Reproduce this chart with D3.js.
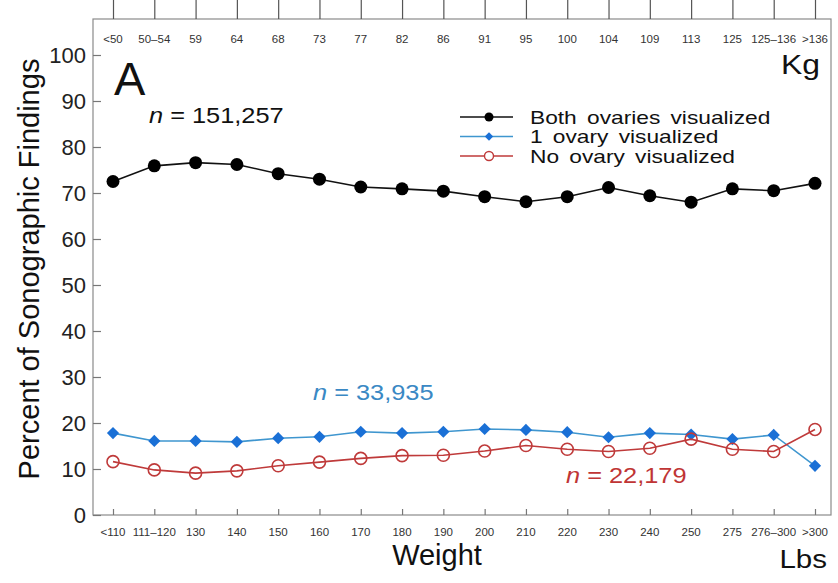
<!DOCTYPE html>
<html>
<head>
<meta charset="utf-8">
<script src="https://cdn.jsdelivr.net/npm/d3@7"></script>
<style>
  body { margin: 0; background: #fff; }
  text { font-family: "Liberation Sans", Arial, sans-serif; }
</style>
</head>
<body>
<div id="chart"></div>
<script>
(function(){
    // categories
    const lbsLabels = ['<110', '111\u2013120', '130', '140', '150', '160', '170', '180', '190', '200',
        '210', '220', '230', '240', '250', '275', '276\u2013300', '>300'];
    const kgLabels = ['<50', '50\u201354', '59', '64', '68', '73', '77', '82', '86', '91',
        '95', '100', '104', '109', '113', '125', '125\u2013136', '>136'];
    const yTicks = [0, 10, 20, 30, 40, 50, 60, 70, 80, 90, 100];

    // series (percent)
    const bothOvaries = [72.5, 75.9, 76.6, 76.2, 74.2, 73.0, 71.3, 70.9, 70.4, 69.2,
        68.1, 69.2, 71.2, 69.4, 68.0, 70.9, 70.5, 72.1];
    const oneOvary = [17.8, 16.1, 16.1, 15.9, 16.7, 17.0, 18.1, 17.8, 18.1, 18.7,
        18.5, 18.0, 16.9, 17.8, 17.5, 16.5, 17.4, 10.7];
    const noOvary = [11.6, 9.8, 9.1, 9.6, 10.7, 11.5, 12.3, 12.9, 13.0, 13.9,
        15.1, 14.3, 13.8, 14.5, 16.5, 14.3, 13.8, 18.6];

    const margin = { top: 19, right: 7, bottom: 68, left: 93 };
    const W = 838, H = 583;
    const width = W - margin.left - margin.right;
    const height = H - margin.top - margin.bottom;

    const svg = d3.select('#chart')
        .append('svg')
            .attr('width', W)
            .attr('height', H);

    const g = svg.append('g')
        .attr('transform', `translate(${margin.left}, ${margin.top})`);

    const xScale = d3.scalePoint()
        .domain(d3.range(lbsLabels.length))
        .range([20, 722]);

    const yScale = d3.scaleLinear()
        .domain([0, 100])
        .range([height, 36]);

    // the source figure is stretched sideways a little
    function wideText(parent, x, y, size, sx) {
        return parent.append('text')
            .attr('transform', `translate(${x}, ${y}) scale(${sx || 1.18}, 1)`)
            .style('font-size', size + 'px');
    }

    // frame
    g.append('rect')
        .attr('width', width)
        .attr('height', height)
        .style('fill', 'none')
        .style('stroke', '#8a8a8a')
        .style('stroke-width', 1.2);

    // left axis, ticks inside
    const yAxis = g.append('g')
        .call(d3.axisRight(yScale).tickValues(yTicks).tickSize(8).tickFormat(''));
    yAxis.select('.domain').remove();
    yAxis.selectAll('line').style('stroke', '#777').style('stroke-width', 1.2);

    g.selectAll('.ylab')
        .data(yTicks)
        .enter()
        .append('text')
            .attr('class', 'ylab')
            .attr('x', -7)
            .attr('y', d => yScale(d))
            .attr('dy', '0.36em')
            .attr('text-anchor', 'end')
            .style('font-size', '22px')
            .style('fill', '#222')
            .text(d => d);

    // bottom axis, ticks inside
    const xAxis = g.append('g')
        .attr('transform', `translate(0, ${height})`)
        .call(d3.axisTop(xScale).tickSize(6).tickFormat(''));
    xAxis.select('.domain').remove();
    xAxis.selectAll('line').style('stroke', '#777').style('stroke-width', 1.2);

    g.selectAll('.xlab')
        .data(lbsLabels)
        .enter()
        .append('text')
            .attr('class', 'xlab')
            .attr('x', (d, i) => xScale(i))
            .attr('y', height + 21)
            .attr('text-anchor', 'middle')
            .style('font-size', '11.5px')
            .style('fill', '#333')
            .text(d => d);

    // top axis (kg), ticks outside
    const topAxis = g.append('g')
        .call(d3.axisTop(xScale).tickSize(19).tickFormat(''));
    topAxis.select('.domain').remove();
    topAxis.selectAll('line').style('stroke', '#555').style('stroke-width', 1.2);

    g.selectAll('.klab')
        .data(kgLabels)
        .enter()
        .append('text')
            .attr('class', 'klab')
            .attr('x', (d, i) => xScale(i))
            .attr('y', 24)
            .attr('text-anchor', 'middle')
            .style('font-size', '11.5px')
            .style('fill', '#333')
            .text(d => d);

    // series
    const series = [
        { name: 'Both ovaries visualized', values: bothOvaries, line: '#111', fill: '#000', stroke: '#000', shape: 'dot' },
        { name: '1 ovary visualized', values: oneOvary, line: '#3f96cf', fill: '#1a70d6', stroke: '#1a70d6', shape: 'diamond' },
        { name: 'No ovary visualized', values: noOvary, line: '#bf3a3a', fill: 'none', stroke: '#bf3a3a', shape: 'ring' }
    ];

    const line = d3.line()
        .x((d, i) => xScale(i))
        .y(d => yScale(d));

    function drawMarker(sel, s) {
        if (s.shape === 'diamond') {
            sel.append('path')
                .attr('d', d3.symbol().type(d3.symbolDiamond2).size(95))
                .style('fill', s.fill);
        } else if (s.shape === 'dot') {
            sel.append('circle')
                .attr('r', 6.5)
                .style('fill', s.fill);
        } else {
            sel.append('circle')
                .attr('r', 6)
                .style('fill', 'none')
                .style('stroke', s.stroke)
                .style('stroke-width', 1.6);
        }
    }

    series.forEach(s => {
        g.append('path')
            .datum(s.values)
            .attr('d', line)
            .style('fill', 'none')
            .style('stroke', s.line)
            .style('stroke-width', 1.6);

        g.selectAll(null)
            .data(s.values)
            .enter()
            .append('g')
                .attr('transform', (d, i) => `translate(${xScale(i)}, ${yScale(d)})`)
                .each(function(){ drawMarker(d3.select(this), s); });
    });

    // legend
    const legend = g.append('g')
        .attr('transform', 'translate(367, 98)');
    series.forEach((s, i) => {
        const row = legend.append('g')
            .attr('transform', `translate(0, ${i * 19.5})`);
        row.append('line')
            .attr('x1', 0)
            .attr('x2', 53)
            .style('stroke', s.line)
            .style('stroke-width', 1.6);
        const m = row.append('g').attr('transform', 'translate(29, 0)');
        if (s.shape === 'dot') {
            m.append('circle').attr('r', 4.5).style('fill', s.fill);
        } else if (s.shape === 'diamond') {
            m.append('path').attr('d', d3.symbol().type(d3.symbolDiamond2).size(45)).style('fill', s.fill);
        } else {
            m.append('circle').attr('r', 4.5).style('fill', '#fff').style('stroke', s.stroke).style('stroke-width', 1.4);
        }
        wideText(row, 70, 0, 17.5, 1.3)
            .attr('dy', '0.38em')
            .style('word-spacing', '3px')
            .style('fill', '#111')
            .text(s.name);
    });

    // annotations
    g.append('text')
        .attr('x', 21)
        .attr('y', 76)
        .style('font-size', '47px')
        .style('fill', '#111')
        .text('A');

    function nLabel(x, y, txt, color) {
        const t = wideText(g, x, y, 21.5)
            .style('fill', color);
        t.append('tspan').style('font-style', 'italic').text('n');
        t.append('tspan').text(' = ' + txt);
    }
    nLabel(56, 104, '151,257', '#111');
    nLabel(220, 381, '33,935', '#3a88c4');
    nLabel(473, 464, '22,179', '#c03535');

    wideText(g, 727, 55, 27)
        .attr('text-anchor', 'end')
        .style('fill', '#111')
        .text('Kg');

    wideText(g, 734, 549, 25)
        .attr('text-anchor', 'end')
        .style('fill', '#111')
        .text('Lbs');

    g.append('text')
        .attr('x', 344)
        .attr('y', 546)
        .attr('text-anchor', 'middle')
        .style('font-size', '29px')
        .style('fill', '#111')
        .text('Weight');

    svg.append('text')
        .attr('transform', `translate(39, ${margin.top + height / 2 + 2}) rotate(-90)`)
        .attr('text-anchor', 'middle')
        .style('font-size', '29px')
        .style('fill', '#111')
        .text('Percent of Sonographic Findings');
}())
</script>
</body>
</html>
